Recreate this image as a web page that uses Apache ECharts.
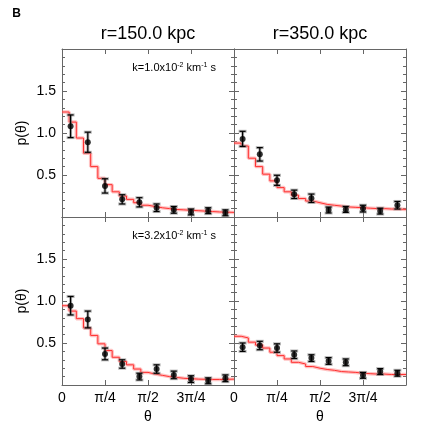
<!DOCTYPE html>
<html>
<head>
<meta charset="utf-8">
<script src="https://cdn.jsdelivr.net/npm/echarts@6/dist/echarts.min.js"></script>
<style>
  html, body { margin: 0; padding: 0; background: #fff; }
  #chart { width: 436px; height: 436px; }
</style>
</head>
<body>
<div id="chart"></div>
<script>
const PI = Math.PI;

// tick labels
const xTickLabels = ['0', 'π/4', 'π/2', '3π/4'];
const yTickValues = [0.5, 1.0, 1.5];
const panelTitles = ['r=150.0 kpc', 'r=350.0 kpc'];
const rowNotes = ['1.0', '3.2'];

// model histograms, 24 bins over [0, pi]
const histTL = [1.25, 1.13, 0.94, 0.76, 0.60, 0.46, 0.385, 0.30, 0.25, 0.21, 0.17, 0.14,
                0.125, 0.11, 0.10, 0.09, 0.085, 0.08, 0.075, 0.07, 0.065, 0.06, 0.058, 0.055];
const histTR = [0.88, 0.845, 0.70, 0.60, 0.51, 0.43, 0.35, 0.30, 0.26, 0.22, 0.19, 0.17,
                0.15, 0.14, 0.13, 0.12, 0.115, 0.11, 0.105, 0.10, 0.10, 0.095, 0.095, 0.09];
const histBL = [0.944, 0.88, 0.79, 0.68, 0.59, 0.49, 0.41, 0.33, 0.28, 0.24, 0.19, 0.15,
                0.13, 0.115, 0.10, 0.09, 0.08, 0.075, 0.07, 0.068, 0.066, 0.066, 0.068, 0.07];
const histBR = [0.58, 0.56, 0.51, 0.475, 0.44, 0.39, 0.35, 0.31, 0.27, 0.25, 0.22, 0.20,
                0.185, 0.175, 0.16, 0.155, 0.15, 0.14, 0.135, 0.13, 0.13, 0.125, 0.125, 0.125];

// measured points, 10 bins over [0, pi]
const ptsTL = [1.08, 0.89, 0.37, 0.21, 0.175, 0.11, 0.085, 0.06, 0.075, 0.05];
const errTL = [0.135, 0.12, 0.085, 0.055, 0.055, 0.045, 0.04, 0.035, 0.035, 0.035];
const ptsTR = [0.93, 0.746, 0.437, 0.27, 0.223, 0.083, 0.09, 0.10, 0.07, 0.14];
const errTR = [0.09, 0.08, 0.06, 0.05, 0.05, 0.035, 0.035, 0.04, 0.035, 0.045];
const ptsBL = [0.944, 0.78, 0.37, 0.25, 0.10, 0.19, 0.12, 0.07, 0.05, 0.08];
const errBL = [0.11, 0.10, 0.07, 0.05, 0.04, 0.05, 0.045, 0.04, 0.035, 0.04];
const ptsBR = [0.45, 0.47, 0.44, 0.36, 0.32, 0.286, 0.27, 0.115, 0.16, 0.14];
const errBR = [0.05, 0.05, 0.05, 0.045, 0.04, 0.04, 0.04, 0.035, 0.035, 0.035];

const hists = [histTL, histTR, histBL, histBR];
const pts = [ptsTL, ptsTR, ptsBL, ptsBR];
const errs = [errTL, errTR, errBL, errBR];

const FONT = 'Liberation Sans, Arial, Helvetica, sans-serif';
const AXIS_COLOR = '#666';

const grids = [
  { left: 62, top: 49, width: 172, height: 168 },
  { left: 234, top: 49, width: 172, height: 168 },
  { left: 62, top: 217, width: 172, height: 168 },
  { left: 234, top: 217, width: 172, height: 168 }
];

function histData(h) {
  const w = PI / h.length;
  const d = h.map((v, i) => [i * w, v]);
  d.push([PI, h[h.length - 1]]);
  return d;
}

function pointData(p, e) {
  const w = PI / p.length;
  return p.map((v, i) => [(i + 0.5) * w, v, e[i]]);
}

const xAxes = [];
const yAxes = [];
const series = [];

grids.forEach((g, k) => {
  const bottomRow = k >= 2;
  const leftCol = k % 2 === 0;
  const baseX = {
    gridIndex: k, type: 'value', min: 0, max: PI, interval: PI / 4,
    axisLine: { show: true, onZero: false, lineStyle: { color: AXIS_COLOR, width: 1 } },
    axisTick: { show: true, inside: true, length: 5, lineStyle: { color: AXIS_COLOR } },
    splitLine: { show: false }
  };
  xAxes.push(Object.assign({}, baseX, {
    position: 'bottom',
    axisLabel: {
      show: bottomRow, margin: 6, fontSize: 14, color: '#000', fontFamily: FONT,
      formatter: v => {
        const i = Math.round(v / (PI / 4));
        return i < xTickLabels.length ? xTickLabels[i] : '';
      }
    },
    name: bottomRow ? 'θ' : '', nameLocation: 'middle', nameGap: 25,
    nameTextStyle: { fontSize: 14, color: '#000', fontFamily: FONT }
  }));
  xAxes.push(Object.assign({}, baseX, { position: 'top', axisLabel: { show: false } }));

  const baseY = {
    gridIndex: k, type: 'value', min: 0, max: 2, interval: 0.5,
    axisLine: { show: true, onZero: false, lineStyle: { color: AXIS_COLOR, width: 1 } },
    axisTick: { show: true, inside: true, length: 5, lineStyle: { color: AXIS_COLOR } },
    minorTick: { show: true, splitNumber: 5, length: 3, lineStyle: { color: AXIS_COLOR } },
    splitLine: { show: false }
  };
  yAxes.push(Object.assign({}, baseY, {
    position: 'left',
    axisLabel: {
      show: leftCol, margin: 6, fontSize: 14, color: '#000', fontFamily: FONT,
      formatter: v => (yTickValues.some(t => Math.abs(t - v) < 1e-6) ? v.toFixed(1) : '')
    },
    name: leftCol ? 'p(θ)' : '', nameLocation: 'middle', nameGap: 33,
    nameTextStyle: { fontSize: 14, color: '#000', fontFamily: FONT }
  }));
  yAxes.push(Object.assign({}, baseY, { position: 'right', axisLabel: { show: false } }));

  const hd = histData(hists[k]);
  series.push({
    type: 'line', xAxisIndex: 2 * k, yAxisIndex: 2 * k, step: 'end', data: hd,
    symbol: 'none', silent: true, z: 1,
    lineStyle: { color: 'rgba(255,120,120,0.45)', width: 3.5 }
  });
  series.push({
    type: 'line', xAxisIndex: 2 * k, yAxisIndex: 2 * k, step: 'end', data: hd,
    symbol: 'none', silent: true, z: 2,
    lineStyle: { color: '#ff3030', width: 1 }
  });
  const pd = pointData(pts[k], errs[k]);
  series.push({
    type: 'custom', xAxisIndex: 2 * k, yAxisIndex: 2 * k, data: pd, z: 3,
    renderItem: (params, api) => {
      const x = api.value(0), y = api.value(1), e = api.value(2);
      const t = api.coord([x, y + e]);
      const b = api.coord([x, y - e]);
      const mk = (cw, lw, col) => [
        { type: 'line', shape: { x1: t[0], y1: t[1], x2: b[0], y2: b[1] }, style: { stroke: col, lineWidth: lw } },
        { type: 'line', shape: { x1: t[0] - cw, y1: t[1], x2: t[0] + cw, y2: t[1] }, style: { stroke: col, lineWidth: lw } },
        { type: 'line', shape: { x1: b[0] - cw, y1: b[1], x2: b[0] + cw, y2: b[1] }, style: { stroke: col, lineWidth: lw } }
      ];
      return { type: 'group', children: mk(4, 3, 'rgba(120,120,120,0.55)').concat(mk(3, 1.2, '#000')) };
    }
  });
  series.push({
    type: 'scatter', xAxisIndex: 2 * k, yAxisIndex: 2 * k, data: pd, z: 4,
    symbol: 'circle', symbolSize: 6, itemStyle: { color: '#000' }
  });
});

const graphics = [
  { type: 'text', x: 16.5, y: 13.5, style: { text: 'B', font: 'bold 12px ' + FONT, fill: '#000', align: 'center', verticalAlign: 'middle', textAlign: 'center', textVerticalAlign: 'middle' } }
];
panelTitles.forEach((t, i) => {
  graphics.push({
    type: 'text', x: 148 + 172 * i, y: 34,
    style: { text: t, font: '18px ' + FONT, fill: '#000', align: 'center', verticalAlign: 'middle', textAlign: 'center', textVerticalAlign: 'middle' }
  });
});
rowNotes.forEach((n, i) => {
  graphics.push({
    type: 'text', x: 216, y: 68 + 168 * i,
    style: {
      text: 'k=' + n + 'x10{s|-2} km{s|-1} s',
      font: '11px ' + FONT, fill: '#000',
      align: 'right', verticalAlign: 'middle', textAlign: 'right', textVerticalAlign: 'middle',
      rich: { s: { fontSize: 7, fontFamily: FONT, fill: '#000', verticalAlign: 'top', padding: [0, 0, 6, 0] } }
    }
  });
});

const chart = echarts.init(document.getElementById('chart'));
chart.setOption({
  backgroundColor: '#fff',
  animation: false,
  grid: grids,
  xAxis: xAxes,
  yAxis: yAxes,
  series: series,
  graphic: graphics
});
</script>
</body>
</html>
